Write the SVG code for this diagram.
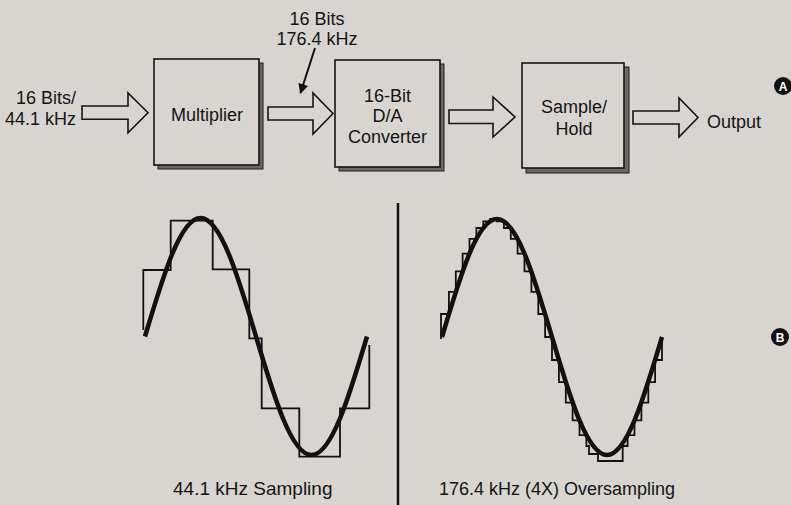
<svg xmlns="http://www.w3.org/2000/svg" width="791" height="505" viewBox="0 0 791 505">
<style>
.t{font-family:"Liberation Sans",Arial,sans-serif;font-size:18px;fill:#141414}
.c{text-anchor:middle}
.box{fill:#d8d5d1;stroke:#141414;stroke-width:1.6}
.shadow{fill:#6a6866;stroke:#1e1e1e;stroke-width:1}
.barrow{fill:#d8d5d1;stroke:#141414;stroke-width:1.6;stroke-linejoin:miter}
.wave{fill:none;stroke:#111;stroke-width:4.5}
.stair{fill:none;stroke:#111;stroke-width:1.8}
.badge{fill:#111}
.bt{font-family:"Liberation Sans",Arial,sans-serif;font-size:12px;font-weight:bold;fill:#fff;text-anchor:middle}
</style>
<defs>
<marker id="ah" viewBox="0 0 10 10" refX="9" refY="5" markerWidth="8" markerHeight="5" orient="auto" markerUnits="strokeWidth">
<path d="M0,0 L10,5 L0,10 z" fill="#111"/>
</marker>
</defs>
<rect width="791" height="505" fill="#d8d5d1"/>

<g id="input">
<text class="t" x="76" y="104" text-anchor="end">16 Bits/</text>
<text class="t" x="76" y="125" text-anchor="end">44.1 kHz</text>
</g>

<g id="multiplier">
<rect class="shadow" x="158" y="63" width="105" height="106"/>
<rect class="box" x="154" y="59" width="105" height="106"/>
<text class="t c" x="207" y="121">Multiplier</text>
</g>

<g id="dac">
<rect class="shadow" x="339" y="64" width="105" height="107"/>
<rect class="box" x="335" y="60" width="105" height="107"/>
<text class="t c" x="387.5" y="102">16-Bit</text>
<text class="t c" x="387.5" y="122">D/A</text>
<text class="t c" x="387.5" y="142.5">Converter</text>
</g>

<g id="samplehold">
<rect class="shadow" x="526" y="67" width="103" height="106"/>
<rect class="box" x="522" y="63" width="102" height="105"/>
<text class="t c" x="574" y="113">Sample/</text>
<text class="t c" x="574" y="135">Hold</text>
</g>

<g id="output">
<text class="t" x="707" y="128">Output</text>
</g>

<g id="rate-label">
<text class="t c" x="317" y="25">16 Bits</text>
<text class="t c" x="317" y="45">176.4 kHz</text>
</g>

<g id="connectors">
<polygon class="barrow" points="82,106 128,106 128,93 148,112.7 128,132.7 128,119.3 82,119.3"/>
<polygon class="barrow" points="268,107 313,107 313,93 333,113.5 313,134 313,120 268,120"/>
<polygon class="barrow" points="449,110 493,110 493,97 515,117 493,137 493,123.5 449,123.5"/>
<polygon class="barrow" points="633,111 679,111 679,98 698,117.5 679,137 679,124 633,124"/>
<line x1="315" y1="48" x2="300.5" y2="93" stroke="#111" stroke-width="2" marker-end="url(#ah)"/>
</g>

<g id="badge-a">
<circle class="badge" cx="783" cy="86" r="9"/>
<text class="bt" x="783" y="90.5">A</text>
</g>
<g id="badge-b">
<circle class="badge" cx="780" cy="337" r="9"/>
<text class="bt" x="780" y="341.5">B</text>
</g>

<line x1="398" y1="203" x2="398" y2="505" stroke="#111" stroke-width="2.5"/>

<g id="plot-441">
<path class="stair" d="M143.3,330 V270 H170.7 V220.7 H212.7 V269.3 H249.3 V338.3 H261.7 V408.3 H299.3 V456.7 H340 V408.3 H369.3 V345"/>
<path class="wave" d="M145,336.5 C163.1,275.8 180.41,218 200.5,218 C220.59,218 237.9,275.8 256,336.5 C274.1,397.2 291.41,455 311.5,455 C331.59,455 348.9,397.2 367,336.5"/>
<text class="t" x="173" y="495" style="font-size:19px">44.1 kHz Sampling</text>
</g>

<g id="plot-1764">
<path class="stair" d="M441,339 V314 H448.9 V291.8 H455.8 V271.4 H462.6 V253.6 H469.5 V238.9 H476.4 V228 H483.3 V221.3 H490.1 V219 H497 V221.3 H503.9 V228 H510.8 V238.9 H517.6 V253.6 H524.5 V271.4 H531.4 V291.8 H538.3 V314 H545.1 V337 H552 V360 H558.9 V382.2 H565.8 V402.6 H572.6 V420.4 H579.5 V435.1 H586.4 V446 H589 V454 H598 V461 H622.7 V446 H627.6 V435.1 H634.5 V420.4 H641.4 V402.6 H648.3 V382.2 H655.1 V360 H662 V337"/>
<path class="wave" d="M442,337 C459.94,276.55 477.09,219 497,219 C516.91,219 534.06,276.55 552,337 C569.94,397.45 587.09,455 607,455 C626.91,455 644.06,397.45 662,337"/>
<text class="t" x="439" y="495">176.4 kHz (4X) Oversampling</text>
</g>
</svg>
